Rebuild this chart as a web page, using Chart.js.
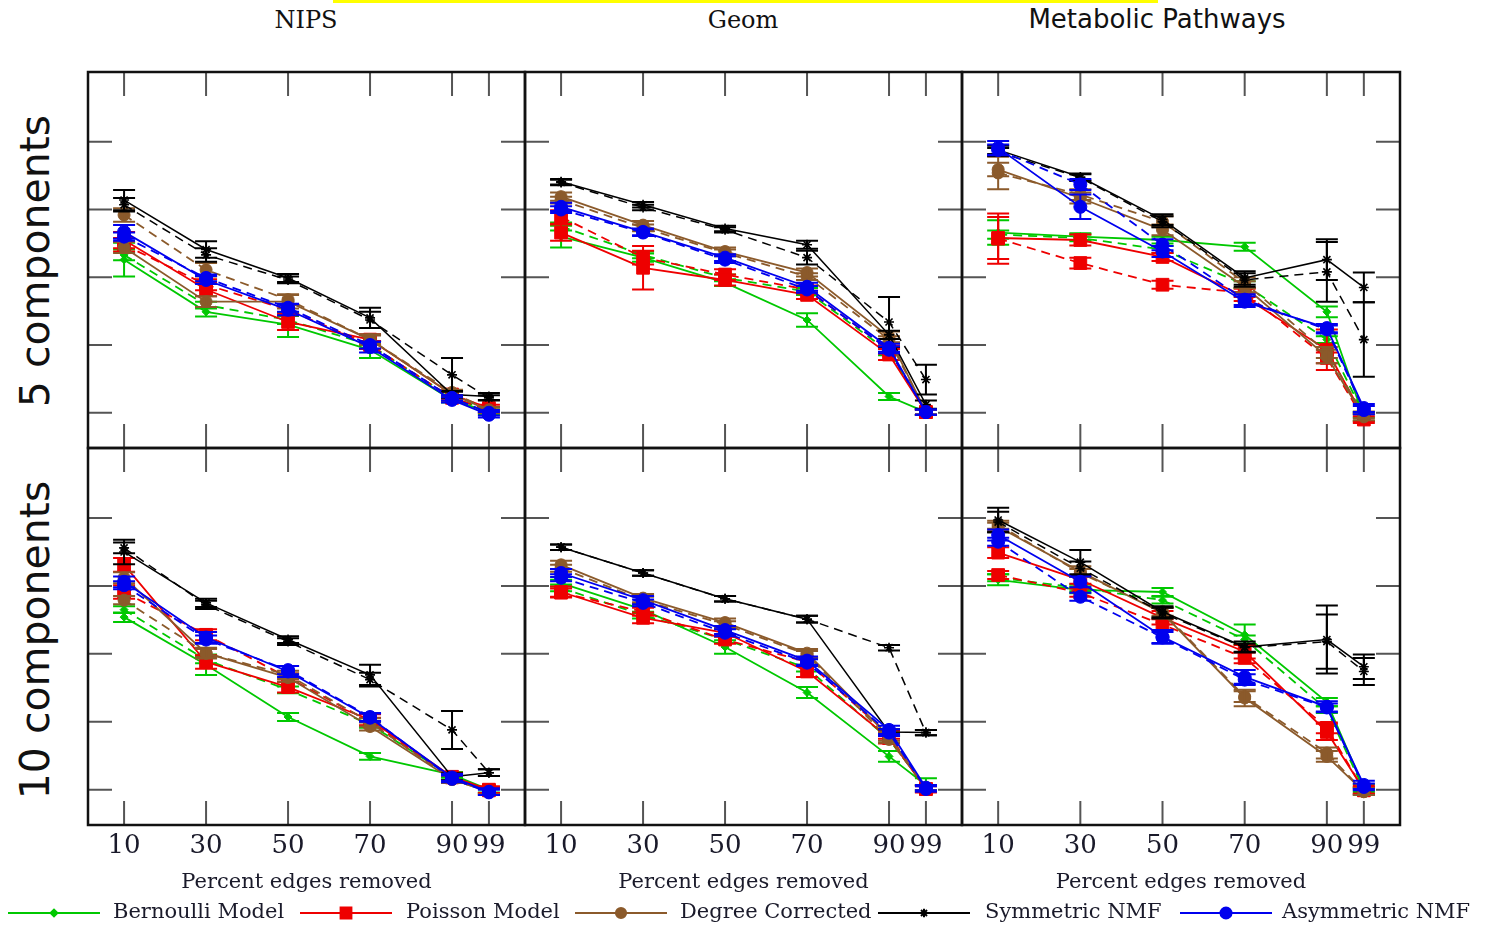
<!DOCTYPE html>
<html>
<head>
<meta charset="utf-8">
<script src="https://cdn.jsdelivr.net/npm/chart.js@4.4.0/dist/chart.umd.min.js"></script>
<style>
  body { margin: 0; background: #fff; width: 1489px; height: 926px; overflow: hidden; position: relative; }
  canvas { position: absolute; }
  .title { position: absolute; top: 6px; transform: translateX(-50%); white-space: nowrap; color: #111; }
  .rowlab { position: absolute; font-family: 'DejaVu Sans', sans-serif; font-size: 41px; color: #111;
            transform: translate(-50%, -50%) rotate(-90deg); white-space: nowrap; }
  .leg { position: absolute; top: 901px; height: 24px; }
  .legtxt { position: absolute; top: 899px; font-family: 'DejaVu Serif', serif; font-size: 21px; color: #1a1a2a; white-space: nowrap; }
</style>
</head>
<body>
<div style="position:absolute;left:333px;top:0;width:825px;height:3px;background:#ffff00"></div>

<script>
// ---- data ----
const percentRemoved = [10, 30, 50, 70, 90, 99];
const yTickValues = [0.5, 0.6, 0.7, 0.8, 0.9];
const modelNames = ['Bernoulli Model', 'Poisson Model', 'Degree Corrected', 'Symmetric NMF', 'Asymmetric NMF'];
const datasetTitles = ['NIPS', 'Geom', 'Metabolic Pathways'];
const rowLabels = ['5 components', '10 components'];
const xAxisTitle = 'Percent edges removed';

// each panel: one row per model (Bernoulli, Poisson, Degree Corrected, Symmetric NMF, Asymmetric NMF)
const nips5Solid = [
  [0.726, 0.649, 0.630, 0.593, 0.519, 0.501],
  [0.755, 0.682, 0.634, 0.608, 0.527, 0.507],
  [0.744, 0.664, 0.664, 0.608, 0.527, 0.504],
  [0.814, 0.741, 0.699, 0.640, 0.527, 0.524],
  [0.767, 0.696, 0.652, 0.597, 0.519, 0.497]
];
const nips5Dashed = [
  [0.733, 0.659, 0.637, 0.600, 0.522, 0.504],
  [0.748, 0.689, 0.652, 0.600, 0.522, 0.504],
  [0.792, 0.711, 0.667, 0.608, 0.530, 0.504],
  [0.807, 0.733, 0.696, 0.637, 0.556, 0.522],
  [0.760, 0.699, 0.655, 0.600, 0.522, 0.500]
];
const nips5SolidErr = [
  [0.025, 0.007, 0.018, 0.012, 0.004, 0.004],
  [0.012, 0.010, 0.012, 0.008, 0.006, 0.005],
  [0.008, 0.008, 0.010, 0.008, 0.005, 0.004],
  [0.015, 0.012, 0.006, 0.015, 0.005, 0.005],
  [0.010, 0.006, 0.008, 0.008, 0.004, 0.004]
];
const nips5DashedErr = [
  [0.008, 0.005, 0.006, 0.006, 0.004, 0.004],
  [0.010, 0.008, 0.008, 0.006, 0.004, 0.004],
  [0.010, 0.010, 0.008, 0.006, 0.004, 0.004],
  [0.010, 0.010, 0.005, 0.012, 0.025, 0.004],
  [0.006, 0.005, 0.006, 0.005, 0.004, 0.004]
];

const geom5Solid = [
  [0.760, 0.729, 0.692, 0.637, 0.524, 0.501],
  [0.766, 0.714, 0.696, 0.674, 0.586, 0.501],
  [0.819, 0.777, 0.738, 0.707, 0.612, 0.501],
  [0.841, 0.807, 0.772, 0.748, 0.615, 0.512],
  [0.804, 0.767, 0.729, 0.686, 0.596, 0.501]
];
const geom5Dashed = [
  [0.775, 0.733, 0.699, 0.679, 0.590, 0.501],
  [0.789, 0.729, 0.704, 0.682, 0.593, 0.501],
  [0.814, 0.773, 0.736, 0.701, 0.608, 0.501],
  [0.840, 0.803, 0.770, 0.729, 0.634, 0.549],
  [0.800, 0.766, 0.726, 0.682, 0.593, 0.501]
];
const geom5SolidErr = [
  [0.016, 0.006, 0.005, 0.010, 0.005, 0.004],
  [0.012, 0.032, 0.008, 0.006, 0.008, 0.004],
  [0.006, 0.006, 0.006, 0.006, 0.008, 0.004],
  [0.004, 0.004, 0.004, 0.006, 0.006, 0.006],
  [0.006, 0.005, 0.005, 0.006, 0.006, 0.004]
];
const geom5DashedErr = [
  [0.006, 0.005, 0.005, 0.005, 0.005, 0.004],
  [0.010, 0.010, 0.008, 0.006, 0.006, 0.004],
  [0.005, 0.005, 0.005, 0.005, 0.005, 0.004],
  [0.004, 0.004, 0.004, 0.010, 0.037, 0.022],
  [0.005, 0.005, 0.005, 0.005, 0.005, 0.004]
];

const metab5Solid = [
  [0.766, 0.760, 0.755, 0.745, 0.649, 0.493],
  [0.758, 0.755, 0.730, 0.671, 0.593, 0.493],
  [0.859, 0.817, 0.770, 0.686, 0.583, 0.494],
  [0.888, 0.848, 0.785, 0.699, 0.726, 0.685],
  [0.891, 0.804, 0.738, 0.664, 0.625, 0.507]
];
const metab5Dashed = [
  [0.763, 0.758, 0.741, 0.689, 0.608, 0.497],
  [0.757, 0.721, 0.689, 0.677, 0.581, 0.490],
  [0.854, 0.822, 0.782, 0.692, 0.589, 0.497],
  [0.885, 0.847, 0.782, 0.696, 0.708, 0.608],
  [0.888, 0.837, 0.748, 0.667, 0.623, 0.504]
];
const metab5SolidErr = [
  [0.018, 0.005, 0.005, 0.006, 0.008, 0.005],
  [0.031, 0.008, 0.006, 0.006, 0.030, 0.006],
  [0.010, 0.008, 0.008, 0.008, 0.010, 0.005],
  [0.006, 0.005, 0.008, 0.010, 0.030, 0.022],
  [0.010, 0.018, 0.008, 0.008, 0.006, 0.006]
];
const metab5DashedErr = [
  [0.006, 0.005, 0.005, 0.005, 0.005, 0.004],
  [0.037, 0.008, 0.006, 0.006, 0.008, 0.005],
  [0.024, 0.008, 0.008, 0.008, 0.008, 0.005],
  [0.006, 0.005, 0.008, 0.010, 0.044, 0.055],
  [0.008, 0.008, 0.008, 0.008, 0.006, 0.006]
];

const nips10Solid = [
  [0.754, 0.684, 0.607, 0.549, 0.522, 0.500],
  [0.831, 0.688, 0.651, 0.603, 0.519, 0.500],
  [0.812, 0.701, 0.665, 0.593, 0.515, 0.497],
  [0.850, 0.775, 0.721, 0.669, 0.519, 0.525],
  [0.806, 0.724, 0.674, 0.606, 0.518, 0.497]
];
const nips10Dashed = [
  [0.765, 0.691, 0.647, 0.596, 0.519, 0.499],
  [0.791, 0.728, 0.665, 0.600, 0.518, 0.499],
  [0.779, 0.701, 0.669, 0.599, 0.515, 0.497],
  [0.856, 0.772, 0.718, 0.662, 0.588, 0.525],
  [0.801, 0.721, 0.676, 0.607, 0.516, 0.496]
];
const nips10SolidErr = [
  [0.007, 0.015, 0.006, 0.005, 0.004, 0.004],
  [0.010, 0.010, 0.008, 0.008, 0.006, 0.005],
  [0.008, 0.008, 0.006, 0.006, 0.005, 0.004],
  [0.018, 0.006, 0.005, 0.015, 0.005, 0.005],
  [0.008, 0.008, 0.008, 0.006, 0.005, 0.005]
];
const nips10DashedErr = [
  [0.005, 0.005, 0.005, 0.005, 0.004, 0.004],
  [0.010, 0.008, 0.006, 0.006, 0.005, 0.004],
  [0.006, 0.006, 0.006, 0.006, 0.005, 0.004],
  [0.008, 0.006, 0.005, 0.010, 0.028, 0.005],
  [0.006, 0.006, 0.006, 0.006, 0.005, 0.004]
];

const geom10Solid = [
  [0.804, 0.765, 0.710, 0.643, 0.549, 0.507],
  [0.791, 0.753, 0.731, 0.674, 0.576, 0.501],
  [0.831, 0.782, 0.746, 0.701, 0.578, 0.503],
  [0.857, 0.819, 0.781, 0.751, 0.585, 0.584],
  [0.819, 0.779, 0.735, 0.690, 0.588, 0.503]
];
const geom10Dashed = [
  [0.797, 0.757, 0.721, 0.679, 0.574, 0.503],
  [0.790, 0.762, 0.721, 0.688, 0.581, 0.501],
  [0.826, 0.779, 0.743, 0.699, 0.574, 0.503],
  [0.857, 0.819, 0.781, 0.751, 0.709, 0.584],
  [0.812, 0.775, 0.731, 0.687, 0.584, 0.501]
];
const geom10SolidErr = [
  [0.005, 0.005, 0.010, 0.008, 0.008, 0.010],
  [0.008, 0.008, 0.006, 0.008, 0.008, 0.005],
  [0.006, 0.006, 0.006, 0.006, 0.006, 0.004],
  [0.004, 0.004, 0.004, 0.005, 0.004, 0.004],
  [0.006, 0.006, 0.006, 0.006, 0.006, 0.004]
];
const geom10DashedErr = [
  [0.005, 0.005, 0.005, 0.005, 0.005, 0.004],
  [0.006, 0.006, 0.006, 0.006, 0.006, 0.004],
  [0.005, 0.005, 0.005, 0.005, 0.005, 0.004],
  [0.004, 0.004, 0.004, 0.005, 0.004, 0.004],
  [0.005, 0.005, 0.005, 0.005, 0.005, 0.004]
];

const metab10Solid = [
  [0.809, 0.794, 0.791, 0.728, 0.629, 0.503],
  [0.849, 0.809, 0.753, 0.703, 0.585, 0.500],
  [0.887, 0.821, 0.760, 0.635, 0.549, 0.497],
  [0.897, 0.835, 0.762, 0.710, 0.721, 0.681],
  [0.875, 0.806, 0.725, 0.666, 0.622, 0.507]
];
const metab10Dashed = [
  [0.812, 0.797, 0.779, 0.721, 0.618, 0.500],
  [0.816, 0.790, 0.743, 0.694, 0.591, 0.499],
  [0.890, 0.819, 0.762, 0.637, 0.554, 0.497],
  [0.894, 0.826, 0.760, 0.709, 0.718, 0.674],
  [0.865, 0.784, 0.724, 0.662, 0.621, 0.504]
];
const metab10SolidErr = [
  [0.008, 0.005, 0.006, 0.015, 0.006, 0.005],
  [0.008, 0.006, 0.010, 0.010, 0.012, 0.006],
  [0.006, 0.008, 0.008, 0.012, 0.008, 0.005],
  [0.018, 0.018, 0.008, 0.008, 0.050, 0.018],
  [0.008, 0.008, 0.010, 0.010, 0.008, 0.006]
];
const metab10DashedErr = [
  [0.005, 0.005, 0.005, 0.006, 0.005, 0.004],
  [0.006, 0.006, 0.008, 0.008, 0.008, 0.005],
  [0.006, 0.006, 0.006, 0.008, 0.008, 0.005],
  [0.015, 0.010, 0.008, 0.006, 0.040, 0.020],
  [0.006, 0.006, 0.008, 0.008, 0.006, 0.005]
];

// ---- styles / layout ----
const modelColors = ['#00c800', '#ee0000', '#8b5a2b', '#000000', '#0000ee'];
const modelMarkers = ['rectRot', 'rect', 'circle', 'star', 'circle'];
const markerRadius = [4, 9, 6, 5, 6.5];
const colLeft = [88, 525, 962], colRight = [525, 962, 1400];
const rowTop = [72, 448], rowBottom = [448, 825];
const titleCenter = [306, 743, 1157];

const panels = [
  [nips5Solid, nips5Dashed, nips5SolidErr, nips5DashedErr],
  [geom5Solid, geom5Dashed, geom5SolidErr, geom5DashedErr],
  [metab5Solid, metab5Dashed, metab5SolidErr, metab5DashedErr],
  [nips10Solid, nips10Dashed, nips10SolidErr, nips10DashedErr],
  [geom10Solid, geom10Dashed, geom10SolidErr, geom10DashedErr],
  [metab10Solid, metab10Dashed, metab10SolidErr, metab10DashedErr]
];

const errorBars = {
  id: 'errorBars',
  afterDatasetDraw(chart, args) {
    const ds = chart.data.datasets[args.index];
    if (!ds.errors) return;
    const ctx = chart.ctx, ys = chart.scales.y;
    ctx.save();
    ctx.strokeStyle = ds.borderColor;
    ctx.lineWidth = 2;
    ctx.setLineDash([]);
    ctx.beginPath();
    args.meta.data.forEach((pt, i) => {
      const e = ds.errors[i];
      const v = ds.data[i].y;
      const top = ys.getPixelForValue(v + e), bot = ys.getPixelForValue(v - e);
      ctx.moveTo(pt.x, top); ctx.lineTo(pt.x, bot);
      ctx.moveTo(pt.x - 11, top); ctx.lineTo(pt.x + 11, top);
      ctx.moveTo(pt.x - 11, bot); ctx.lineTo(pt.x + 11, bot);
    });
    ctx.stroke();
    ctx.restore();
  }
};

const frameTicks = {
  id: 'frameTicks',
  beforeDatasetsDraw(chart) {
    const { ctx, chartArea: a, scales: { x, y } } = chart;
    ctx.save();
    ctx.strokeStyle = '#555';
    ctx.lineWidth = 2;
    ctx.beginPath();
    percentRemoved.forEach(v => {
      const px = x.getPixelForValue(v);
      ctx.moveTo(px, a.top); ctx.lineTo(px, a.top + 24);
      ctx.moveTo(px, a.bottom); ctx.lineTo(px, a.bottom - 24);
    });
    yTickValues.forEach(v => {
      const py = y.getPixelForValue(v);
      ctx.moveTo(a.left, py); ctx.lineTo(a.left + 24, py);
      ctx.moveTo(a.right, py); ctx.lineTo(a.right - 24, py);
    });
    ctx.stroke();
    ctx.restore();
  },
  afterDraw(chart) {
    const { ctx, chartArea: a } = chart;
    ctx.save();
    ctx.strokeStyle = '#111';
    ctx.lineWidth = 2.5;
    ctx.strokeRect(a.left, a.top, a.right - a.left, a.bottom - a.top);
    ctx.restore();
  }
};

function makePanel(p) {
  const r = Math.floor(p / 3), c = p % 3;
  const [solid, dashed, solidErr, dashedErr] = panels[p];
  const bottomRow = r === 1;
  const pad = 10, axisH = bottomRow ? 80 : 0, padBottom = bottomRow ? 0 : pad;
  const cv = document.createElement('canvas');
  cv.width = colRight[c] - colLeft[c] + 2 * pad;
  cv.height = rowBottom[r] - rowTop[r] + pad + padBottom + axisH;
  cv.style.left = (colLeft[c] - pad) + 'px';
  cv.style.top = (rowTop[r] - pad) + 'px';
  document.body.appendChild(cv);

  const datasets = [];
  modelNames.forEach((name, m) => {
    [[solid, solidErr, false], [dashed, dashedErr, true]].forEach(([vals, errs, isDashed]) => {
      datasets.push({
        label: name + (isDashed ? ' (dashed)' : ''),
        data: percentRemoved.map((x, i) => ({ x: x, y: vals[m][i] })),
        errors: errs[m],
        borderColor: modelColors[m],
        backgroundColor: modelColors[m],
        borderWidth: m === 3 ? 1.5 : 1.8,
        borderDash: isDashed ? [9, 6] : [],
        pointStyle: modelMarkers[m],
        pointRadius: markerRadius[m],
        pointBorderWidth: m === 3 ? 1.6 : 1,
        tension: 0,
        order: (4 - m) * 2 + (isDashed ? 1 : 0)
      });
    });
  });

  new Chart(cv, {
    type: 'line',
    data: { datasets },
    options: {
      responsive: false,
      animation: false,
      devicePixelRatio: 1,
      layout: { padding: { left: pad, right: pad, top: pad, bottom: padBottom } },
      plugins: { legend: { display: false }, tooltip: { enabled: false } },
      scales: {
        x: {
          type: 'linear', min: 1.2, max: 107.8,
          display: bottomRow,
          grid: { display: false, drawTicks: false },
          border: { display: false },
          afterBuildTicks: s => { s.ticks = percentRemoved.map(v => ({ value: v })); },
          afterFit: s => { s.height = axisH; },
          ticks: { autoSkip: false, maxRotation: 0, padding: 6, color: '#1a1a2a',
                   font: { family: 'DejaVu Serif', size: 26 } },
          title: { display: true, text: xAxisTitle, color: '#1a1a2a', padding: { top: 0, bottom: 10 },
                   font: { family: 'DejaVu Serif', size: 21 } }
        },
        y: {
          type: 'linear', min: 0.448, max: 1.003, display: false,
          grid: { display: false }
        }
      }
    },
    plugins: [frameTicks, errorBars]
  });
}

for (let p = 0; p < 6; p++) makePanel(p);

// titles
datasetTitles.forEach((t, i) => {
  const d = document.createElement('div');
  d.className = 'title';
  d.textContent = t;
  d.style.left = titleCenter[i] + 'px';
  if (i === 2) { d.style.fontFamily = "'DejaVu Sans', sans-serif"; d.style.fontSize = '26px'; d.style.top = '4px'; }
  else { d.style.fontFamily = "'DejaVu Serif', serif"; d.style.fontSize = '24px'; }
  document.body.appendChild(d);
});

// row labels
[261, 640].forEach((cy, i) => {
  const d = document.createElement('div');
  d.className = 'rowlab';
  d.textContent = rowLabels[i];
  d.style.left = '35px';
  d.style.top = cy + 'px';
  document.body.appendChild(d);
});

// legend
const legLineLeft = [8, 300, 575, 878, 1180];
const legTextLeft = [113, 406, 680, 985, 1282];
modelNames.forEach((name, m) => {
  const c = document.createElement('canvas');
  c.className = 'leg';
  c.width = 92; c.height = 24;
  c.style.left = legLineLeft[m] + 'px';
  document.body.appendChild(c);
  const ctx = c.getContext('2d');
  ctx.strokeStyle = modelColors[m];
  ctx.fillStyle = modelColors[m];
  ctx.lineWidth = 2;
  ctx.beginPath(); ctx.moveTo(0, 12); ctx.lineTo(92, 12); ctx.stroke();
  Chart.helpers.drawPoint(ctx, { pointStyle: modelMarkers[m], radius: markerRadius[m] * 0.85, borderWidth: 1.5 }, 46, 12);
  const t = document.createElement('div');
  t.className = 'legtxt';
  t.textContent = name;
  t.style.left = legTextLeft[m] + 'px';
  document.body.appendChild(t);
});
</script>
</body>
</html>
